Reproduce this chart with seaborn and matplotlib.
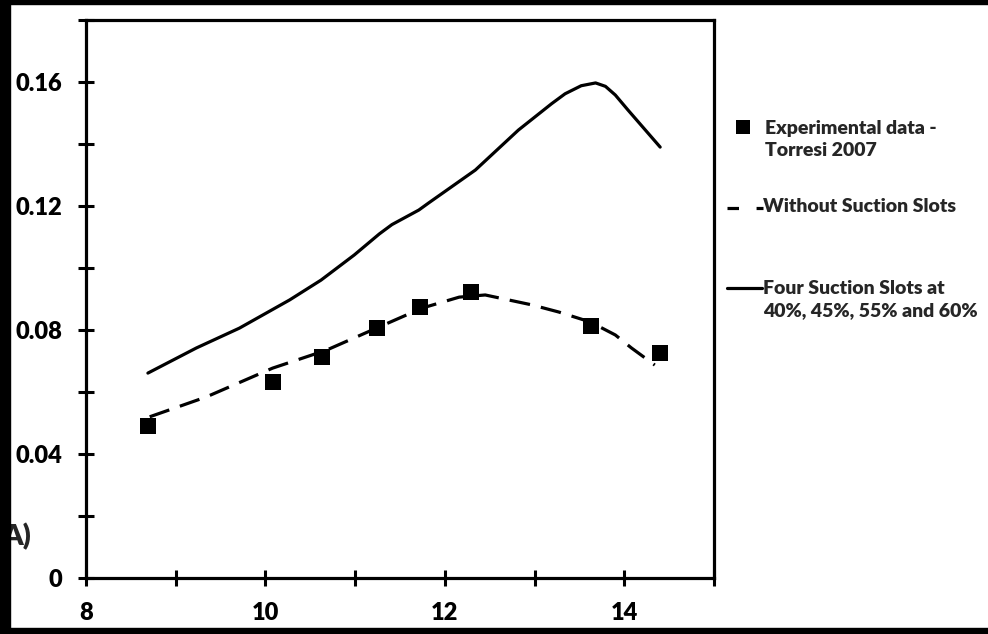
import matplotlib.pyplot as plt
import numpy as np
import pandas as pd
import seaborn as sns
from matplotlib.lines import Line2D
from matplotlib.patches import Rectangle
from matplotlib.ticker import FixedLocator, FixedFormatter

# experimental data - Torresi 2007
exp_x = [8.69, 10.08, 10.63, 11.24, 11.72, 12.29, 13.63, 14.40]
exp_y = [0.0490, 0.0632, 0.0713, 0.0806, 0.0874, 0.0923, 0.0813, 0.0726]

# without suction slots (dashed)
base_x = [8.71, 9.34, 10.08, 10.68, 11.19, 11.75, 12.16, 12.45, 12.97, 13.27, 13.62, 13.90, 14.08, 14.34]
base_y = [0.0520, 0.0584, 0.0677, 0.0735, 0.0800, 0.0871, 0.0906, 0.0913, 0.0881, 0.0858, 0.0826, 0.0784, 0.0742, 0.0687]

# four suction slots at 40%, 45%, 55% and 60% (solid)
slot_x = [8.69, 9.23, 9.71, 10.27, 10.62, 10.99, 11.27, 11.41, 11.71, 11.82, 12.34, 12.82,
          13.19, 13.34, 13.52, 13.68, 13.79, 13.90, 14.04, 14.16, 14.28, 14.40]
slot_y = [0.0661, 0.0742, 0.0806, 0.0897, 0.0961, 0.1042, 0.1110, 0.1140, 0.1187, 0.1210,
          0.1316, 0.1445, 0.1530, 0.1562, 0.1588, 0.1597, 0.1586, 0.1558, 0.1510, 0.1470,
          0.1430, 0.1390]

x_major = [8, 10, 12, 14]
x_minor = [9, 11, 13, 15]
y_major = [0, 0.04, 0.08, 0.12, 0.16]
y_minor = [0.02, 0.06, 0.10, 0.14, 0.18]
x_labels = ["8", "10", "12", "14"]
y_labels = ["0", "0.04", "0.08", "0.12", "0.16"]

legend_labels = [
    "Experimental data -\nTorresi 2007",
    "Without Suction Slots",
    "Four Suction Slots at\n40%, 45%, 55% and 60%",
]

sns.set_theme(style="ticks")
plt.rcParams["font.family"] = ["Lato", "DejaVu Sans"]
plt.rcParams["font.weight"] = "heavy"

W, H = 988, 634
fig = plt.figure(figsize=(W / 100, H / 100), dpi=100)
fig.patch.set_facecolor("white")
ax = fig.add_axes([86 / W, 1 - 578 / H, (714 - 86) / W, (578 - 20) / H])

df_exp = pd.DataFrame({"x": exp_x, "y": exp_y})
df_base = pd.DataFrame({"x": base_x, "y": base_y})
df_slot = pd.DataFrame({"x": slot_x, "y": slot_y})

sns.lineplot(data=df_slot, x="x", y="y", ax=ax, color="black", lw=2.3,
             estimator=None, sort=False)
sns.lineplot(data=df_base, x="x", y="y", ax=ax, color="black", lw=2.3,
             linestyle=(0, (6.5, 3.5)), estimator=None, sort=False)
sns.scatterplot(data=df_exp, x="x", y="y", ax=ax, color="black", marker="s",
                s=144, linewidth=0, zorder=5)

ax.set_xlim(8, 15)
ax.set_ylim(0, 0.18)
ax.set_xlabel("")
ax.set_ylabel("")
ax.xaxis.set_major_locator(FixedLocator(x_major))
ax.xaxis.set_major_formatter(FixedFormatter(x_labels))
ax.xaxis.set_minor_locator(FixedLocator(x_minor))
ax.yaxis.set_major_locator(FixedLocator(y_major))
ax.yaxis.set_major_formatter(FixedFormatter(y_labels))
ax.yaxis.set_minor_locator(FixedLocator(y_minor))
ax.tick_params(which="both", direction="inout", length=12, width=2.2, color="black")
ax.tick_params(which="major", labelsize=17, pad=11, labelcolor="black")
ax.tick_params(top=False, right=False, which="both")
for side in ["left", "bottom", "top", "right"]:
    ax.spines[side].set_visible(True)
    ax.spines[side].set_linewidth(2.3)
    ax.spines[side].set_color("black")
for lab in ax.get_xticklabels() + ax.get_yticklabels():
    lab.set_fontweight("heavy")

# legend drawn by hand so the uneven gaps of the original are kept
def fx(px):
    return px / W


def fy(py):
    return 1 - py / H


fig.add_artist(Line2D([fx(743)], [fy(127)], marker="s", ms=9.5, mew=0,
                      color="black", transform=fig.transFigure))
fig.add_artist(Line2D([fx(727), fx(763)], [fy(208), fy(208)], lw=2.3, color="black",
                      linestyle=(0, (3.6, 5.5)), transform=fig.transFigure))
fig.add_artist(Line2D([fx(727), fx(762)], [fy(288), fy(288)], lw=2.3, color="black",
                      transform=fig.transFigure))
leg_fs = 14
fig.text(fx(765), fy(120), legend_labels[0], fontsize=leg_fs, fontweight="heavy",
         va="top", ha="left", linespacing=1.33)
fig.text(fx(763), fy(207), legend_labels[1], fontsize=leg_fs, fontweight="heavy",
         va="center", ha="left")
fig.text(fx(763), fy(280), legend_labels[2], fontsize=leg_fs, fontweight="heavy",
         va="top", ha="left", linespacing=1.33)

# panel tag, partly hidden by the frame of the screenshot
fig.text(fx(31), fy(537), "A)", fontsize=21, fontweight="heavy", ha="right",
         va="center", zorder=1)

# black frame of the original screenshot
fig.add_artist(Rectangle((0, 0), fx(10), 1, transform=fig.transFigure,
                         color="black", zorder=10))
fig.add_artist(Rectangle((0, fy(4)), 1, 4 / H, transform=fig.transFigure,
                         color="black", zorder=10))
fig.add_artist(Rectangle((0, 0), 1, 6 / H, transform=fig.transFigure,
                         color="black", zorder=10))

fig.savefig("out.png", dpi=100)
